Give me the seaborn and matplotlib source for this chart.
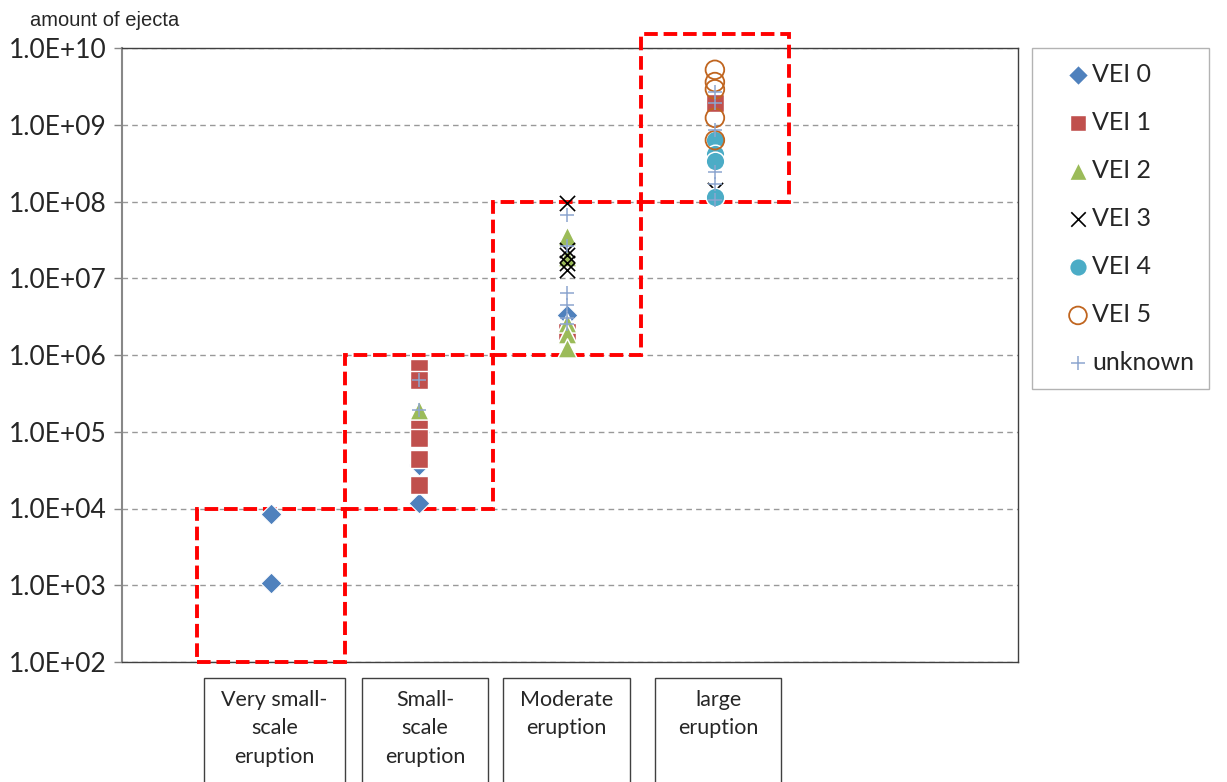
import pandas as pd
import seaborn as sns
import matplotlib.pyplot as plt
from matplotlib.patches import Rectangle
from matplotlib.collections import PathCollection
from matplotlib.legend_handler import HandlerPathCollection
from matplotlib.transforms import blended_transform_factory
from matplotlib.ticker import FuncFormatter, LogLocator, NullLocator

# eruption classes (x = 1..4)
categories = ["Very small-\nscale\neruption", "Small-\nscale\neruption",
              "Moderate\neruption", "large\neruption"]
class_lo = [1e2, 1e4, 1e6, 1e8]
class_hi = [1e4, 1e6, 1e8, 1.5e10]

# amount of ejecta per VEI group
vei0_x = [1, 1, 2, 2, 3]
vei0_y = [8.5e3, 1.07e3, 3.7e4, 1.17e4, 3.3e6]
vei1_x = [2, 2, 2, 2, 2, 2, 3, 4]
vei1_y = [6.8e5, 4.7e5, 1.22e5, 8.3e4, 4.4e4, 2.0e4, 2.0e6, 1.9e9]
vei2_x = [2, 3, 3, 3, 3, 3]
vei2_y = [1.9e5, 3.6e7, 1.9e7, 2.6e6, 1.9e6, 1.23e6]
vei3_x = [3, 3, 3, 3, 3, 4]
vei3_y = [9.5e7, 2.3e7, 2.0e7, 1.6e7, 1.3e7, 1.4e8]
vei4_x = [4, 4, 4, 4]
vei4_y = [6.3e8, 4.2e8, 3.4e8, 1.13e8]
vei5_x = [4, 4, 4, 4, 4]
vei5_y = [5.2e9, 3.6e9, 2.9e9, 1.23e9, 6.3e8]
unk_x = [2, 2, 3, 3, 3, 3, 3, 3, 4, 4, 4, 4, 4, 4]
unk_y = [4.7e5, 1.9e5, 6.6e7, 2.6e7, 6.5e6, 4.5e6, 3.0e6, 2.5e6,
         2.7e9, 1.9e9, 8.5e8, 2.4e8, 1.7e8, 1.05e8]

sns.set_style("white")
plt.rcParams['font.family'] = ['Lato', 'DejaVu Sans']

fig = plt.figure(figsize=(12.27, 7.82), dpi=100)
ax = fig.add_axes([122/1227, 1-662/782, 896/1227, 614/782])

series = [
    ("VEI 0", vei0_x, vei0_y, dict(marker="D", color="#4F81BD", s=115)),
    ("VEI 1", vei1_x, vei1_y, dict(marker="s", color="#C0504D", s=160)),
    ("VEI 2", vei2_x, vei2_y, dict(marker="^", color="#9BBB59", s=190)),
    ("VEI 3", vei3_x, vei3_y, dict(marker="x", color="black", s=120, linewidth=1.2)),
    ("VEI 4", vei4_x, vei4_y, dict(marker="o", color="#4BACC6", s=180)),
    ("VEI 5", vei5_x, vei5_y, dict(marker="o", color="#C0651F", facecolor="none",
                                  edgecolor="#C0651F", s=180, linewidth=1.3)),
    ("unknown", unk_x, unk_y, dict(marker="+", color="#8DA6CF", s=110, linewidth=1.1)),
]
for name, xs, ys, kw in series:
    df = pd.DataFrame({"x": xs, "y": ys})
    sns.scatterplot(data=df, x="x", y="y", ax=ax, label=name, zorder=4, **kw)

ax.set_yscale("log")
ax.set_ylim(1e2, 1e10)
ax.set_xlim(-0.01, 6.05)
ax.yaxis.set_major_locator(LogLocator(base=10, numticks=20))
ax.yaxis.set_minor_locator(NullLocator())
ax.yaxis.set_major_formatter(FuncFormatter(lambda v, p: "%.1E" % v))
ax.set_xticks([])
ax.set_xlabel("")
ax.set_ylabel("")
ax.tick_params(axis="y", labelsize=19, length=6, width=1, color="#888888",
               direction="out", left=True, pad=5)
ax.grid(axis="y", linestyle=(0, (4, 3)), color="#999999", linewidth=1)
for side in ["top", "right", "bottom"]:
    ax.spines[side].set_color("#404040")
    ax.spines[side].set_linewidth(1)
ax.spines["left"].set_color("#888888")
ax.spines["left"].set_linewidth(1.5)

# red dashed class boxes
for i in range(4):
    x0 = i + 0.5
    ax.add_patch(Rectangle((x0, class_lo[i]), 1, class_hi[i] - class_lo[i],
                           fill=False, edgecolor="#FF0000", linewidth=2.8,
                           linestyle=(0, (3.5, 1.5)), clip_on=False, zorder=3))

# class label boxes below the axis
tr = blended_transform_factory(ax.transData, ax.transAxes)
box_l = [0.545, 1.613, 2.567, 3.595]
box_r = [1.498, 2.465, 3.426, 4.447]
for i, lab in enumerate(categories):
    ax.add_patch(Rectangle((box_l[i], -0.2), box_r[i] - box_l[i], 0.2 - 0.026,
                           transform=tr, fill=False, edgecolor="#404040",
                           linewidth=1, clip_on=False))
    ax.text((box_l[i] + box_r[i]) / 2, -0.045, lab, transform=tr, ha="center",
            va="top", fontsize=15.5, linespacing=1.55)

fig.text(30/1227, 1-21/782, "amount of ejecta", fontsize=14.5,
         family=["Liberation Sans", "DejaVu Sans"], ha="left", va="center")

leg = ax.legend(loc="upper left", bbox_to_anchor=(1.0156, 1.0), borderaxespad=0,
                fontsize=18, frameon=True, fancybox=False, edgecolor="#A0A0A0",
                labelspacing=1.0, handletextpad=0.0, handlelength=1.8,
                borderpad=0.6, markerscale=0.95,
                handler_map={PathCollection: HandlerPathCollection(xpad=0.68)})
leg.get_frame().set_linewidth(1)

plt.savefig("out.png", dpi=100)
